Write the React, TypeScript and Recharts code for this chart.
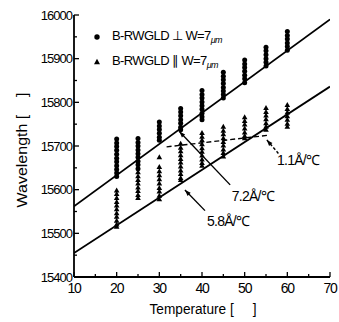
import React from "react";
import {
  ComposedChart,
  Scatter,
  Line,
  XAxis,
  YAxis,
  Label,
  Legend,
  ReferenceLine,
  ReferenceDot,
} from "recharts";

const FONT = '"Liberation Sans", Arial, sans-serif';

const temperatures = [20, 25, 30, 35, 40, 45, 50, 55, 60];

// B-RWGLD ⊥ W=7um, wavelength readings per temperature column (Å)
const perpColumns = [
  [15716, 15707, 15699, 15690, 15681, 15672, 15664, 15655, 15646, 15638, 15630],
  [15717, 15708, 15700, 15691, 15682, 15674, 15665, 15657, 15648],
  [15755, 15746, 15738, 15729, 15720, 15713],
  [15786, 15778, 15769, 15760, 15752, 15743, 15737],
  [15827, 15818, 15810, 15801, 15792, 15784, 15775, 15767, 15760],
  [15869, 15860, 15852, 15843, 15834, 15826, 15818, 15810],
  [15897, 15888, 15880, 15871, 15862, 15854, 15845],
  [15926, 15918, 15909, 15900, 15892, 15883],
  [15962, 15953, 15945, 15936, 15928, 15919],
];

// B-RWGLD ∥ W=7um
const paraColumns = [
  [15598, 15590, 15581, 15572, 15564, 15555, 15546, 15538, 15529, 15520, 15515],
  [15640, 15631, 15622, 15614, 15605, 15597, 15588, 15581],
  [15674, 15652, 15642, 15633, 15624, 15614, 15604, 15596, 15586, 15578],
  [15705, 15696, 15688, 15679, 15670, 15662, 15653, 15644, 15636, 15627, 15622],
  [15730, 15721, 15713, 15704, 15695, 15687, 15678, 15669, 15661, 15655],
  [15744, 15735, 15727, 15718, 15709, 15701, 15692, 15684, 15676],
  [15766, 15757, 15749, 15740, 15731, 15723, 15718],
  [15787, 15778, 15770, 15761, 15752, 15744, 15737],
  [15794, 15785, 15777, 15768, 15760, 15751, 15744],
];

const perpFit = [
  { t: 10, v: 15562 },
  { t: 70, v: 15990 },
];
const paraFit = [
  { t: 10, v: 15455 },
  { t: 70, v: 15836 },
];
const kneeFit = [
  { t: 31.7, v: 15698 },
  { t: 55.9, v: 15725 },
];

const slopeNotes = [
  { label: "7.2", at: { t: 47.0, v: 15574 }, from: { t: 34.7, v: 15733 }, to: { t: 46.6, v: 15611 }, dashed: false },
  { label: "5.8", at: { t: 41.2, v: 15517 }, from: { t: 36.0, v: 15599 }, to: { t: 40.7, v: 15552 }, dashed: false },
  { label: "1.1", at: { t: 57.6, v: 15657 }, from: { t: 55.2, v: 15714 }, to: { t: 57.9, v: 15683 }, dashed: true },
];

const xTicks = [10, 15, 20, 25, 30, 35, 40, 45, 50, 55, 60, 65, 70];
const yTicks = [
  15400, 15450, 15500, 15550, 15600, 15650, 15700, 15750, 15800, 15850, 15900,
  15950, 16000,
];

const toPoints = (cols: number[][]) =>
  cols.flatMap((vals, i) => vals.map((v) => ({ t: temperatures[i], v })));

const perpPoints = toPoints(perpColumns);
const paraPoints = toPoints(paraColumns);

const textStyle = { fontFamily: FONT, fill: "#000" };

const CircleMark = (p: any) => <circle cx={p.cx} cy={p.cy} r={2.5} fill="#000" />;
const TriangleMark = (p: any) => (
  <polygon
    points={`${p.cx},${p.cy - 3} ${p.cx - 2.8},${p.cy + 2} ${p.cx + 2.8},${p.cy + 2}`}
    fill="#000"
  />
);

const BottomTick = ({ x, y, payload }: any) => {
  const major = payload.value % 10 === 0;
  return (
    <g>
      <line x1={x} x2={x} y1={y} y2={y - (major ? 5 : 3)} stroke="#000" strokeWidth={1.3} />
      {major && (
        <text x={x} y={y + 16} textAnchor="middle" fontSize={14} letterSpacing={-1.2} {...textStyle}>
          {payload.value}
        </text>
      )}
    </g>
  );
};

const TopTick = ({ x, y, payload }: any) => (
  <line x1={x} x2={x} y1={y} y2={y + (payload.value % 10 === 0 ? 5 : 3)} stroke="#000" strokeWidth={1.3} />
);

const LeftTick = ({ x, y, payload }: any) => {
  const major = payload.value % 100 === 0;
  return (
    <g>
      <line x1={x} x2={x + (major ? 5 : 3)} y1={y} y2={y} stroke="#000" strokeWidth={1.3} />
      {major && (
        <text x={x - 2} y={y + 4.5} textAnchor="end" fontSize={13} letterSpacing={-1} {...textStyle}>
          {payload.value}
        </text>
      )}
    </g>
  );
};

const RightTick = ({ x, y, payload }: any) => (
  <line x1={x} x2={x - (payload.value % 100 === 0 ? 5 : 3)} y1={y} y2={y} stroke="#000" strokeWidth={1.3} />
);

const XTitle = ({ viewBox }: any) => (
  <text
    x={viewBox.x + viewBox.width / 2 + 1}
    y={viewBox.y + 37}
    textAnchor="middle"
    fontSize={14}
    textLength={107}
    lengthAdjust="spacingAndGlyphs"
    {...textStyle}
  >
    {"Temperature [\u00a0\u00a0\u00a0\u00a0\u00a0]"}
  </text>
);

const YTitle = ({ viewBox }: any) => {
  const cx = viewBox.x + 13;
  const cy = viewBox.y + viewBox.height / 2 + 4;
  return (
    <text
      x={cx}
      y={cy}
      transform={`rotate(-90 ${cx} ${cy})`}
      textAnchor="middle"
      fontSize={14}
      textLength={115}
      lengthAdjust="spacingAndGlyphs"
      {...textStyle}
    >
      {"Wavelength [\u00a0\u00a0\u00a0\u00a0]"}
    </text>
  );
};

const Pointer = (p: any) => {
  const { x1, y1, x2, y2, dashed } = p;
  const dx = x2 - x1;
  const dy = y2 - y1;
  const len = Math.hypot(dx, dy) || 1;
  const ux = dx / len;
  const uy = dy / len;
  const bx = x1 + ux * 6;
  const by = y1 + uy * 6;
  return (
    <g>
      <line x1={x1} y1={y1} x2={x2} y2={y2} stroke="#000" strokeWidth={1.4} strokeDasharray={dashed ? "3 2" : undefined} />
      <polygon
        points={`${x1},${y1} ${bx - uy * 2.2},${by + ux * 2.2} ${bx + uy * 2.2},${by - ux * 2.2}`}
        fill="#000"
      />
    </g>
  );
};

const legendRows = [
  { name: "B-RWGLD \u22a5 W=7", mark: "circle" },
  { name: "B-RWGLD \u2225 W=7", mark: "triangle" },
];

const renderLegend = () => (
  <div style={{ fontFamily: FONT, fontSize: 13, lineHeight: "23px", color: "#000", letterSpacing: -0.6 }}>
    {legendRows.map((row) => (
      <div key={row.mark} style={{ display: "flex", alignItems: "center", whiteSpace: "nowrap" }}>
        <svg width={20} height={10}>
          {row.mark === "circle" ? (
            <circle cx={5} cy={5} r={2.7} fill="#000" />
          ) : (
            <polygon points="5,1.8 2,7.2 8,7.2" fill="#000" />
          )}
        </svg>
        <span>
          {row.name}
          <span style={{ fontSize: 9, fontStyle: "italic", position: "relative", top: 3 }}>{"\u03bcm"}</span>
        </span>
      </div>
    ))}
  </div>
);

export default function App() {
  return (
    <div style={{ position: "absolute", left: 0, top: 0, width: 339, height: 322, background: "#fff" }}>
      <ComposedChart width={339} height={322} margin={{ top: 15, right: 9, bottom: 0, left: 14 }}>
        <XAxis
          xAxisId="b"
          type="number"
          dataKey="t"
          orientation="bottom"
          domain={[10, 70]}
          ticks={xTicks}
          interval={0}
          allowDataOverflow
          height={45}
          tickSize={0}
          tickMargin={0}
          tickLine={false}
          tick={BottomTick}
          axisLine={{ stroke: "#000", strokeWidth: 1.8 }}
        >
          <Label content={XTitle} />
        </XAxis>
        <XAxis
          xAxisId="top"
          type="number"
          orientation="top"
          domain={[10, 70]}
          ticks={xTicks}
          interval={0}
          allowDataOverflow
          height={0}
          tickSize={0}
          tickMargin={0}
          tickLine={false}
          tick={TopTick}
          axisLine={{ stroke: "#000", strokeWidth: 1.8 }}
        />
        <YAxis
          yAxisId="l"
          type="number"
          dataKey="v"
          orientation="left"
          domain={[15400, 16000]}
          ticks={yTicks}
          interval={0}
          allowDataOverflow
          width={60}
          tickSize={0}
          tickMargin={0}
          tickLine={false}
          tick={LeftTick}
          axisLine={{ stroke: "#000", strokeWidth: 1.8 }}
        >
          <Label content={YTitle} />
        </YAxis>
        <YAxis
          yAxisId="r"
          type="number"
          orientation="right"
          domain={[15400, 16000]}
          ticks={yTicks}
          interval={0}
          allowDataOverflow
          width={0}
          tickSize={0}
          tickMargin={0}
          tickLine={false}
          tick={RightTick}
          axisLine={{ stroke: "#000", strokeWidth: 1.8 }}
        />

        <Scatter xAxisId="b" yAxisId="l" data={perpPoints} shape={CircleMark} isAnimationActive={false} />
        <Scatter xAxisId="b" yAxisId="l" data={paraPoints} shape={TriangleMark} isAnimationActive={false} />

        <Line xAxisId="b" yAxisId="l" data={perpFit} dataKey="v" stroke="#000" strokeWidth={1.8} dot={false} isAnimationActive={false} />
        <Line xAxisId="b" yAxisId="l" data={paraFit} dataKey="v" stroke="#000" strokeWidth={1.8} dot={false} isAnimationActive={false} />
        <Line
          xAxisId="b"
          yAxisId="l"
          data={kneeFit}
          dataKey="v"
          stroke="#000"
          strokeWidth={1.4}
          strokeDasharray="5 3"
          dot={false}
          isAnimationActive={false}
        />

        {slopeNotes.map((n) => (
          <ReferenceLine
            key={`line-${n.label}`}
            xAxisId="b"
            yAxisId="l"
            segment={[
              { x: n.from.t, y: n.from.v },
              { x: n.to.t, y: n.to.v },
            ]}
            shape={(p: any) => <Pointer {...p} dashed={n.dashed} />}
          />
        ))}
        {slopeNotes.map((n) => (
          <ReferenceDot
            key={`text-${n.label}`}
            xAxisId="b"
            yAxisId="l"
            x={n.at.t}
            y={n.at.v}
            shape={(p: any) => (
              <text x={p.cx} y={p.cy} fontSize={14} letterSpacing={-0.8} {...textStyle}>
                {`${n.label}\u00c5/\u2103`}
              </text>
            )}
          />
        ))}

        <Legend
          layout="horizontal"
          verticalAlign="middle"
          align="center"
          wrapperStyle={{ top: 24, left: 92, width: 200, height: 46 }}
          content={renderLegend}
        />
      </ComposedChart>
    </div>
  );
}
